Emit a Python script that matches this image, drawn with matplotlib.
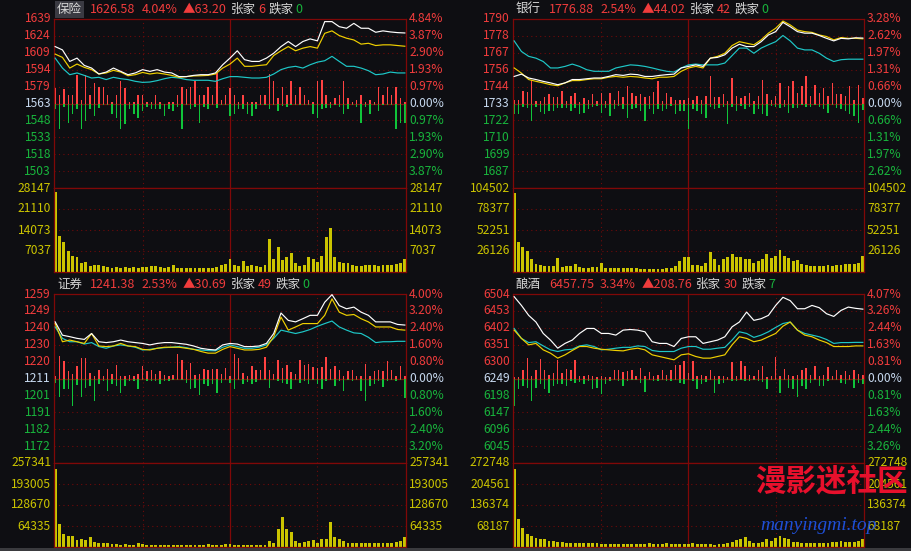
import numpy as np
import matplotlib
matplotlib.use('Agg')
import matplotlib.pyplot as plt
from matplotlib import transforms as mtrans
from matplotlib.text import Annotation
from matplotlib.patches import Rectangle

plt.rcParams['font.family'] = ['Noto Sans CJK SC', 'DejaVu Sans']

# ---------------- data ----------------
line_t = np.arange(0, 241, 5)   # minutes after open, line samples
bar_t = np.arange(0, 241, 3)    # minutes after open, bar samples

# 保险 (percent change vs. previous close)
bx_white = [3.26, 3.07, 2.41, 2.60, 2.18, 2.03, 1.69, 1.80, 2.03, 1.84, 1.65, 1.75, 1.94, 1.84, 1.94, 1.80, 1.75,
            1.54, 1.54, 1.61, 1.65, 1.65, 1.75, 2.22, 2.60, 3.02, 2.51, 2.41, 2.41, 2.60, 2.88, 3.26, 3.55, 3.26,
            3.55, 3.70, 3.59, 4.69, 4.69, 4.40, 4.31, 4.59, 4.31, 4.31, 4.08, 4.16, 4.10, 4.06, 4.04]
bx_yellow = [2.83, 2.64, 2.03, 2.26, 2.07, 1.94, 1.69, 1.75, 1.90, 1.80, 1.59, 1.65, 1.78, 1.69, 1.75, 1.69, 1.61,
             1.50, 1.54, 1.58, 1.59, 1.61, 1.69, 2.03, 2.26, 2.60, 2.13, 2.13, 2.18, 2.22, 2.75, 3.02, 3.26, 3.02,
             3.17, 3.26, 3.17, 4.02, 4.16, 3.89, 3.74, 3.64, 3.40, 3.45, 3.32, 3.36, 3.36, 3.32, 3.28]
bx_cyan = [2.60, 2.03, 1.65, 1.75, 1.61, 1.46, 1.50, 1.37, 1.50, 1.42, 1.37, 1.27, 1.21, 1.23, 1.31, 1.42, 1.50,
           1.46, 1.37, 1.33, 1.33, 1.33, 1.27, 1.42, 1.54, 1.54, 1.50, 1.46, 1.46, 1.50, 1.69, 1.94, 2.07, 2.13,
           2.03, 2.22, 2.37, 2.45, 2.70, 2.41, 2.13, 2.13, 2.03, 1.88, 1.65, 1.69, 1.80, 1.75, 1.75]
bx_red = [0.89, 0.51, 0.85, 0.46, 0.46, 1.65, 0.2, 1.65, 0.5, 1.18,
          0.93, 0.93, 0.5, 0.1, 0.5, 1.31, 0.89, 0.1, 0.1, 0.5,
          0.5, 0.1, 0.1, 0.5, 0.1, 0.0, 0.1, 0.1, 0.5, 0.93,
          0.85, 0.93, 1.27, 0.5, 0.48, 0.93, 0.5, 1.74, 0.2, 0.5,
          0.9, 0.48, 0.1, 0.5, 0.1, 0.1, 0.1, 0.48, 0.48, 1.69,
          1.27, 0.3, 0.93, 0.48, 1.27, 0.48, 0.93, 0.48, 0.2, 0.1,
          1.27, 1.36, 0.48, 0.1, 0.3, 0.5, 1.27, 0.3, 0.1, 0.2,
          0.48, 0.1, 0.2, 0.1, 0.93, 0.48, 0.93, 0.48, 0.93, 0.3,
          0.1]
bx_green = [0.3, 1.48, 0.2, 1.1, 0.63, 0.3, 1.48, 1.0, 0.34, 0.72,
            0.28, 0.1, 0.1, 0.63, 0.82, 1.48, 1.2, 0.3, 0.63, 0.82,
            0.44, 0.2, 0.34, 0.34, 0.3, 0.72, 0.3, 0.44, 0.2, 1.48,
            0.1, 0.34, 0.2, 1.1, 0.2, 0.34, 0.1, 0.28, 0.1, 0.1,
            0.72, 0.63, 0.34, 0.3, 0.63, 0.72, 0.34, 0.1, 0.1, 0.34,
            0.1, 0.44, 0.15, 0.2, 0.1, 0.1, 0.1, 0.1, 0.1, 0.63,
            0.82, 0.3, 0.25, 0.25, 0.1, 0.2, 0.63, 0.34, 0.1, 0.2,
            1.1, 0.2, 0.63, 0.1, 0.44, 0.1, 0.1, 0.1, 1.48, 1.1,
            1.1]
bx_vol = [26700, 12000, 10000, 7000, 5500, 5000, 3000, 3500, 2000, 2300,
          2500, 2000, 1800, 1500, 1800, 1500, 1700, 1400, 1600, 1500,
          1800, 1700, 2000, 2000, 1700, 1500, 1600, 2200, 1300, 1400,
          1500, 1500, 1400, 1200, 1300, 1500, 1500, 1700, 2200, 2800,
          4500, 2500, 2000, 3800, 2000, 2300, 2000, 1800, 2500, 11200,
          4500, 8400, 4000, 5000, 6500, 3000, 2000, 2500, 5000, 4500,
          3500, 5500, 11800, 14600, 5000, 3500, 3000, 3000, 2500, 2000,
          2000, 2200, 2500, 2500, 2000, 2300, 2500, 2300, 2700, 3000,
          4300]

# 银行
yh_white = [1.05, 1.14, 0.99, 0.93, 0.86, 0.80, 0.73, 0.80, 0.93, 0.93, 0.96, 0.99, 0.99, 1.05, 1.12, 1.09, 1.14,
            1.12, 1.05, 1.05, 1.09, 1.12, 1.14, 1.38, 1.44, 1.50, 1.44, 1.76, 1.79, 1.89, 2.15, 2.30, 2.21, 2.21,
            2.40, 2.66, 2.79, 3.15, 2.98, 2.79, 2.73, 2.73, 2.64, 2.53, 2.43, 2.53, 2.51, 2.55, 2.54]
yh_yellow = [1.38, 1.18, 0.93, 0.86, 0.80, 0.73, 0.69, 0.80, 0.89, 0.89, 0.93, 0.96, 0.96, 1.02, 1.05, 1.02, 1.05,
             1.03, 0.99, 0.96, 1.02, 1.02, 1.05, 1.25, 1.38, 1.44, 1.38, 1.76, 1.83, 1.95, 2.25, 2.40, 2.34, 2.28,
             2.47, 2.73, 2.92, 3.20, 3.05, 2.85, 2.79, 2.76, 2.66, 2.60, 2.47, 2.56, 2.53, 2.53, 2.51]
yh_cyan = [2.43, 2.02, 1.83, 1.76, 1.63, 1.38, 1.38, 1.44, 1.53, 1.44, 1.31, 1.25, 1.25, 1.25, 1.38, 1.44, 1.50,
           1.48, 1.44, 1.38, 1.31, 1.25, 1.22, 1.38, 1.50, 1.53, 1.50, 1.50, 1.50, 1.57, 1.86, 2.15, 2.15, 1.95,
           2.15, 2.28, 2.40, 2.64, 2.43, 2.15, 2.08, 2.08, 1.95, 1.76, 1.63, 1.70, 1.72, 1.72, 1.72]
yh_red = [0.15, 0.15, 0.48, 0.44, 0.93, 0.1, 0.1, 0.24, 0.35, 0.25,
          0.25, 0.48, 0.1, 0.28, 0.4, 0.05, 0.22, 0.12, 0.35, 0.1,
          0.39, 0.1, 0.41, 0.15, 0.48, 0.25, 0.67, 0.41, 0.28, 0.35,
          0.24, 0.28, 0.44, 0.86, 0.1, 0.41, 0.24, 0.15, 0.15, 0.15,
          0.2, 0.15, 0.28, 0.15, 0.28, 1.05, 0.24, 0.24, 0.35, 0.1,
          0.99, 0.28, 0.22, 0.3, 0.41, 0.1, 0.28, 0.93, 0.35, 0.15,
          0.28, 0.8, 0.15, 0.67, 0.86, 0.39, 0.67, 1.05, 0.28, 0.73,
          0.41, 0.6, 0.28, 0.8, 0.35, 0.35, 0.28, 0.67, 0.15, 0.7,
          0.22]
yh_green = [0.4, 0.42, 0.14, 0.17, 0.68, 0.15, 0.33, 0.4, 0.3, 0.3,
            0.17, 0.17, 0.17, 0.3, 0.17, 0.42, 0.36, 0.23, 0.14, 0.1,
            0.36, 0.17, 0.49, 0.23, 0.1, 0.23, 0.55, 0.23, 0.17, 0.3,
            0.68, 0.23, 0.42, 0.23, 0.3, 0.23, 0.1, 0.42, 0.3, 0.3,
            1.0, 0.23, 0.3, 0.42, 0.58, 0.14, 0.23, 0.17, 0.14, 0.81,
            0.12, 0.3, 0.1, 0.23, 0.12, 0.4, 0.23, 0.42, 0.49, 0.1,
            0.12, 0.17, 0.14, 0.36, 0.17, 0.17, 0.05, 0.12, 0.12, 0.05,
            0.14, 0.23, 0.36, 0.05, 0.17, 0.23, 0.3, 0.42, 0.49, 0.75,
            0.27]
yh_vol = [98200, 36800, 30500, 26300, 16700, 9600, 8800, 7500, 7500, 7500,
          17000, 6300, 7500, 7500, 9600, 6300, 5400, 4600, 6300, 6300,
          11700, 5400, 5400, 5400, 5400, 4600, 4600, 5400, 4600, 3800,
          3800, 3800, 3800, 3800, 3800, 4600, 5400, 7500, 13800, 18800,
          19200, 8800, 8800, 7500, 11700, 25500, 15900, 8800, 15900, 18800,
          22200, 18800, 18800, 15900, 15900, 11700, 13800, 15900, 23000, 18000,
          20000, 27200, 20000, 18000, 13800, 14600, 9600, 8800, 7500, 7500,
          7500, 7500, 8800, 7500, 8800, 8800, 9600, 10500, 10500, 11700,
          20000]

# 证券
zq_white = [2.68, 2.05, 1.98, 1.90, 1.85, 2.13, 1.74, 1.70, 1.74, 1.82, 1.74, 1.70, 1.66, 1.59, 1.66, 1.70, 1.70,
            1.66, 1.62, 1.54, 1.43, 1.38, 1.35, 1.59, 1.66, 1.63, 1.51, 1.51, 1.54, 1.66, 2.13, 3.10, 2.75, 2.68,
            2.83, 2.99, 2.99, 3.61, 3.97, 3.45, 3.30, 3.38, 3.14, 2.99, 2.68, 2.68, 2.68, 2.56, 2.53]
zq_yellow = [2.60, 1.74, 1.82, 1.74, 1.66, 2.13, 1.54, 1.51, 1.54, 1.66, 1.54, 1.51, 1.38, 1.35, 1.43, 1.48, 1.48,
             1.48, 1.43, 1.38, 1.28, 1.20, 1.20, 1.38, 1.51, 1.43, 1.35, 1.35, 1.38, 1.48, 1.98, 2.91, 2.29, 2.44,
             2.60, 2.60, 2.60, 2.99, 3.77, 3.14, 2.99, 3.03, 2.83, 2.68, 2.44, 2.44, 2.44, 2.32, 2.29]
zq_cyan = [2.44, 1.90, 1.74, 1.74, 1.63, 1.70, 1.51, 1.43, 1.54, 1.59, 1.54, 1.48, 1.35, 1.38, 1.43, 1.46, 1.48,
           1.51, 1.46, 1.38, 1.35, 1.32, 1.31, 1.48, 1.59, 1.51, 1.43, 1.43, 1.48, 1.59, 1.90, 2.29, 2.21, 2.13,
           2.21, 2.32, 2.47, 2.60, 2.72, 2.44, 2.29, 2.16, 2.13, 1.95, 1.70, 1.74, 1.74, 1.76, 1.76]
zq_red = [0.1, 1.07, 0.81, 0.34, 0.23, 0.58, 0.96, 0.96, 0.26, 0.1,
          0.42, 0.1, 0.45, 0.23, 0.65, 0.1, 0.1, 0.15, 0.1, 0.2,
          0.58, 0.34, 0.42, 0.2, 0.34, 0.18, 0.1, 0.18, 1.17, 0.86,
          0.39, 0.75, 0.18, 0.2, 0.45, 0.42, 0.45, 0.45, 0.2, 0.5,
          0.1, 1.17, 0.96, 0.26, 0.1, 0.6, 0.42, 0.42, 1.0, 0.42,
          0.2, 0.89, 0.5, 0.65, 0.3, 0.2, 0.89, 0.65, 0.7, 0.54,
          0.5, 0.54, 1.0, 0.45, 0.58, 0.39, 0.1, 0.34, 0.42, 0.1,
          0.1, 0.7, 0.1, 0.34, 0.42, 0.34, 0.81, 0.39, 0.1, 0.6,
          0.1]
zq_green = [0.2, 0.86, 0.51, 0.48, 1.29, 0.33, 0.86, 0.44, 0.36, 1.06,
            0.28, 0.12, 0.59, 0.28, 0.36, 0.67, 0.36, 0.12, 0.1, 0.51,
            0.05, 0.1, 0.12, 0.12, 0.28, 0.12, 0.12, 0.05, 0.05, 0.05,
            0.2, 0.51, 0.44, 0.79, 0.28, 0.36, 0.28, 0.67, 0.2, 0.05,
            0.2, 0.51, 0.05, 0.28, 0.17, 0.28, 0.17, 0.05, 0.05, 0.44,
            0.05, 0.1, 0.2, 0.28, 0.51, 0.05, 0.23, 0.1, 0.28, 0.05,
            0.28, 0.51, 0.12, 0.05, 0.36, 0.1, 0.59, 0.05, 0.12, 0.05,
            0.59, 1.06, 0.36, 0.28, 0.1, 0.39, 0.12, 0.05, 0.12, 0.05,
            0.9]
zq_vol = [239000, 69700, 39000, 33800, 33800, 20500, 23600, 21500, 31800, 15400,
          11300, 11300, 11300, 8200, 8200, 7200, 10200, 7200, 7200, 11300,
          8200, 7200, 7200, 6200, 6200, 6200, 6200, 6200, 6200, 6200,
          6200, 7200, 6200, 6200, 6200, 8200, 6200, 6200, 7200, 8200,
          10200, 6200, 6200, 6200, 6200, 6200, 6200, 7200, 7200, 18500,
          11300, 54300, 93000, 55000, 46000, 18500, 13300, 15400, 18500, 21500,
          13300, 25600, 25600, 78000, 31800, 23600, 18500, 13300, 11300, 11300,
          11300, 13300, 11300, 11300, 11300, 11300, 11300, 13300, 15400, 18500,
          31800]

# 酿酒
nj_white = [3.94, 3.52, 3.04, 2.72, 2.17, 1.85, 1.46, 1.69, 1.85, 2.17, 2.41, 2.41, 2.17, 2.17, 2.09, 2.33, 2.36,
            2.33, 2.25, 1.77, 1.69, 1.69, 1.54, 1.93, 2.01, 2.01, 1.69, 1.77, 1.85, 2.01, 2.49, 2.72, 3.20, 2.80,
            2.88, 3.04, 3.52, 3.91, 3.75, 3.36, 3.36, 3.52, 3.41, 3.12, 2.99, 3.28, 3.44, 3.38, 3.34]
nj_yellow = [2.33, 1.93, 1.62, 1.69, 1.38, 1.22, 0.98, 1.14, 1.35, 1.54, 1.54, 1.46, 1.41, 1.38, 1.35, 1.33, 1.41,
             1.46, 1.38, 1.14, 1.06, 0.98, 0.90, 1.14, 1.19, 1.06, 0.98, 0.98, 1.06, 1.14, 1.62, 2.01, 1.93, 1.77,
             1.85, 2.01, 2.17, 2.52, 2.72, 2.33, 2.09, 2.01, 1.85, 1.73, 1.54, 1.54, 1.54, 1.57, 1.57]
nj_cyan = [2.41, 1.93, 1.73, 1.77, 1.57, 1.38, 1.30, 1.38, 1.41, 1.57, 1.62, 1.54, 1.38, 1.41, 1.46, 1.50, 1.50,
           1.57, 1.54, 1.35, 1.30, 1.30, 1.30, 1.46, 1.54, 1.54, 1.41, 1.41, 1.46, 1.50, 1.85, 2.25, 2.17, 1.98,
           2.09, 2.25, 2.46, 2.65, 2.72, 2.33, 2.17, 2.09, 2.01, 1.88, 1.69, 1.73, 1.73, 1.74, 1.74]
nj_red = [0.05, 0.05, 0.4, 1.0, 0.14, 0.43, 0.94, 0.4, 0.19, 0.27,
          0.87, 0.27, 0.46, 0.4, 0.87, 0.14, 0.14, 0.19, 0.14, 0.05,
          0.14, 0.05, 0.05, 0.43, 0.4, 0.3, 0.35, 0.43, 0.14, 0.51,
          0.14, 0.3, 0.14, 0.19, 0.43, 0.19, 0.43, 0.67, 0.67, 0.83,
          0.27, 0.83, 0.1, 0.19, 0.14, 0.4, 0.14, 0.1, 0.14, 0.05,
          0.78, 0.1, 0.83, 0.59, 0.19, 0.1, 0.4, 0.59, 0.05, 0.14,
          1.03, 0.14, 0.46, 0.19, 0.14, 0.19, 0.43, 0.51, 0.19, 0.59,
          0.1, 0.19, 0.56, 0.14, 0.4, 0.19, 0.35, 0.19, 0.43, 0.24,
          0.19]
nj_green = [1.31, 0.52, 0.37, 0.44, 1.08, 0.44, 0.28, 0.49, 0.68, 0.37,
            0.28, 0.28, 0.37, 0.13, 0.2, 0.17, 0.28, 0.13, 0.52, 0.44,
            0.76, 0.28, 0.13, 0.05, 0.13, 0.37, 0.13, 0.05, 0.05, 0.2,
            0.65, 0.05, 0.13, 0.13, 0.05, 0.13, 0.13, 0.05, 0.2, 0.28,
            0.05, 0.13, 0.49, 0.28, 0.17, 0.05, 0.71, 0.28, 0.2, 0.05,
            0.13, 0.13, 0.05, 0.13, 0.13, 0.05, 0.13, 0.17, 0.49, 0.05,
            0.05, 0.71, 0.05, 0.44, 0.52, 0.87, 0.37, 0.52, 0.24, 0.05,
            0.37, 0.37, 0.13, 0.05, 0.05, 0.2, 0.28, 0.05, 0.44, 0.2,
            0.28]
nj_vol = [253000, 90000, 63000, 41300, 35900, 30400, 25000, 27200, 19600, 19600,
          16300, 16300, 14100, 14100, 14100, 12000, 14100, 14100, 12000, 12000,
          10900, 9800, 9800, 9800, 9800, 10900, 9800, 9800, 9800, 9800,
          10900, 12000, 10900, 9800, 9800, 14100, 9800, 9800, 8700, 9800,
          9800, 12000, 8700, 8700, 8700, 8700, 7600, 8700, 8700, 12000,
          16300, 22800, 27200, 33700, 19600, 14100, 12000, 16300, 27200, 19600,
          30400, 35900, 30400, 25000, 16300, 16300, 14100, 12000, 12000, 12000,
          14100, 14100, 14100, 16300, 16300, 19600, 16300, 16300, 16300, 19600,
          25000]

# header texts and axis labels
names = ['保险', '银行', '证券', '酿酒']
last_px = ['1626.58', '1776.88', '1241.38', '6457.75']
chg_pct = ['4.04%', '2.54%', '2.53%', '3.34%']
chg_abs = ['▲63.20', '▲44.02', '▲30.69', '▲208.76']
n_up = ['6', '42', '49', '30']
n_dn = ['0', '0', '0', '7']
top_pct = [4.84, 3.28, 4.00, 4.07]
price_labels = [
    ['1639', '1624', '1609', '1594', '1579', '1563', '1548', '1533', '1518', '1503'],
    ['1790', '1778', '1767', '1756', '1744', '1733', '1722', '1710', '1699', '1687'],
    ['1259', '1249', '1240', '1230', '1220', '1211', '1201', '1191', '1182', '1172'],
    ['6504', '6453', '6402', '6351', '6300', '6249', '6198', '6147', '6096', '6045'],
]
pct_labels = [
    ['4.84%', '3.87%', '2.90%', '1.93%', '0.97%', '0.00%', '0.97%', '1.93%', '2.90%', '3.87%'],
    ['3.28%', '2.62%', '1.97%', '1.31%', '0.66%', '0.00%', '0.66%', '1.31%', '1.97%', '2.62%'],
    ['4.00%', '3.20%', '2.40%', '1.60%', '0.80%', '0.00%', '0.80%', '1.60%', '2.40%', '3.20%'],
    ['4.07%', '3.26%', '2.44%', '1.63%', '0.81%', '0.00%', '0.81%', '1.63%', '2.44%', '3.26%'],
]
vol_max = [28147, 104502, 257341, 272748]
vol_labels = [
    ['28147', '21110', '14073', '7037'],
    ['104502', '78377', '52251', '26126'],
    ['257341', '193005', '128670', '64335'],
    ['272748', '204561', '136374', '68187'],
]

# ---------------- style ----------------
W, H = 912, 551
BG = '#0e0e12'
GRID = '#6e0a0a'
SOLID = '#800808'
C_UP = '#f03c3c'
C_DN = '#18b43c'
C_ZERO = '#c6d8ee'
C_VOL = '#cbc400'
C_TXT = '#d6d6d6'
FS = 8.7
LW = 0.85
DOT = (0, (1, 3))

fig = plt.figure(figsize=(W / 100, H / 100), dpi=100, facecolor=BG)


def header(x, y, pieces, boxed):
    prev = None
    for s, col, gap in pieces:
        if prev is None:
            kw = {}
            if boxed:
                kw['bbox'] = dict(facecolor='#3a3a42', edgecolor='none', pad=1.6)
            prev = fig.text(x / W, 1 - y / H, s, color=col, fontsize=9, ha='left', va='bottom', **kw)
        else:
            ann = Annotation(s, xy=(1, 0), xycoords=prev, xytext=(gap, 0), textcoords='offset points',
                             color=col, fontsize=9, ha='left', va='bottom')
            fig.add_artist(ann)
            prev = ann


def panel(i, x0, y0, w, white, yellow, cyan, red, green, vol, boxed=False):
    top = top_pct[i]
    ax = fig.add_axes([x0 / W, 1 - (y0 + 169) / H, w / W, 169 / H])
    axv = fig.add_axes([x0 / W, 1 - (y0 + 253) / H, w / W, 84 / H])
    for a in (ax, axv):
        a.set_facecolor(BG)
        a.set_xlim(-0.8, 240.8)
        a.set_xticks([])
        a.set_yticks([])
        for sp in a.spines.values():
            sp.set_color(SOLID)
            sp.set_linewidth(0.9)
        a.axvline(120, color=SOLID, lw=0.9, zorder=1)
        for m in (60, 180):
            a.axvline(m, color=GRID, lw=0.8, ls=DOT, zorder=1)

    # price / percent part
    ax.set_ylim(-top, top)
    lt = mtrans.offset_copy(ax.get_yaxis_transform(), fig=fig, x=-3, y=0, units='dots')
    rt = mtrans.offset_copy(ax.get_yaxis_transform(), fig=fig, x=3, y=0, units='dots')
    for k in range(10):
        lv = top * (5 - k) / 5
        if k == 5:
            ax.axhline(0, color=SOLID, lw=0.9, zorder=1)
        elif k > 0:
            ax.axhline(lv, color=GRID, lw=0.8, ls=DOT, zorder=1)
        col = C_UP if k < 5 else (C_ZERO if k == 5 else C_DN)
        ax.text(0, lv, price_labels[i][k], transform=lt, ha='right', va='center',
                color=col, fontsize=FS, clip_on=False)
        ax.text(1, lv, pct_labels[i][k], transform=rt, ha='left', va='center',
                color=col, fontsize=FS, clip_on=False)

    ax.bar(bar_t, red, width=1.0, color='#ff4242', lw=0, zorder=2)
    ax.bar(bar_t, -np.array(green), width=1.0, color='#10c43a', lw=0, zorder=2)
    ax.plot(line_t, cyan, color='#1ec8c8', lw=LW, zorder=3)
    ax.plot(line_t, yellow, color='#f0d000', lw=LW, zorder=4)
    ax.plot(line_t, white, color='#ffffff', lw=LW, zorder=5)

    # volume part
    vmax = vol_max[i]
    axv.set_ylim(0, vmax)
    lt = mtrans.offset_copy(axv.get_yaxis_transform(), fig=fig, x=-3, y=0, units='dots')
    rt = mtrans.offset_copy(axv.get_yaxis_transform(), fig=fig, x=3, y=0, units='dots')
    for k in range(4):
        lv = vmax * (4 - k) / 4
        if k > 0:
            axv.axhline(lv, color=GRID, lw=0.8, ls=DOT, zorder=1)
        axv.text(0, lv, vol_labels[i][k], transform=lt, ha='right', va='center',
                 color=C_VOL, fontsize=FS, clip_on=False)
        axv.text(1, lv, vol_labels[i][k], transform=rt, ha='left', va='center',
                 color=C_VOL, fontsize=FS, clip_on=False)
    axv.bar(bar_t, vol, width=2.0, color=C_VOL, lw=0, zorder=2)

    header(x0 + 3, y0 - 3, [
        (names[i], C_TXT, 0),
        (last_px[i], C_UP, 6),
        (chg_pct[i], C_UP, 4),
        (chg_abs[i], C_UP, 4),
        ('张家', C_TXT, 3),
        (n_up[i], C_UP, 1.5),
        ('跌家', C_TXT, 3),
        (n_dn[i], C_DN, 1),
    ], boxed)


panel(0, 54, 19, 352, bx_white, bx_yellow, bx_cyan, bx_red, bx_green, bx_vol, boxed=True)
panel(1, 513, 19, 351, yh_white, yh_yellow, yh_cyan, yh_red, yh_green, yh_vol)
panel(2, 54, 294, 352, zq_white, zq_yellow, zq_cyan, zq_red, zq_green, zq_vol)
panel(3, 513, 294, 351, nj_white, nj_yellow, nj_cyan, nj_red, nj_green, nj_vol)

# bottom status strip
fig.add_artist(Rectangle((0, 0), 1, 3 / H, transform=fig.transFigure, color='#3a3a3e', lw=0))

# watermark
fig.text(831 / W, 1 - 482 / H, '漫影迷社区', color='#e8102c', fontsize=22, fontweight='bold',
         ha='center', va='center')
fig.text(818 / W, 1 - 526 / H, 'manyingmi.top', color='#1f4fd6', fontsize=14, style='italic',
         family=['Liberation Serif', 'DejaVu Serif'], ha='center', va='center')

fig.savefig('out.png', dpi=100, facecolor=BG)
